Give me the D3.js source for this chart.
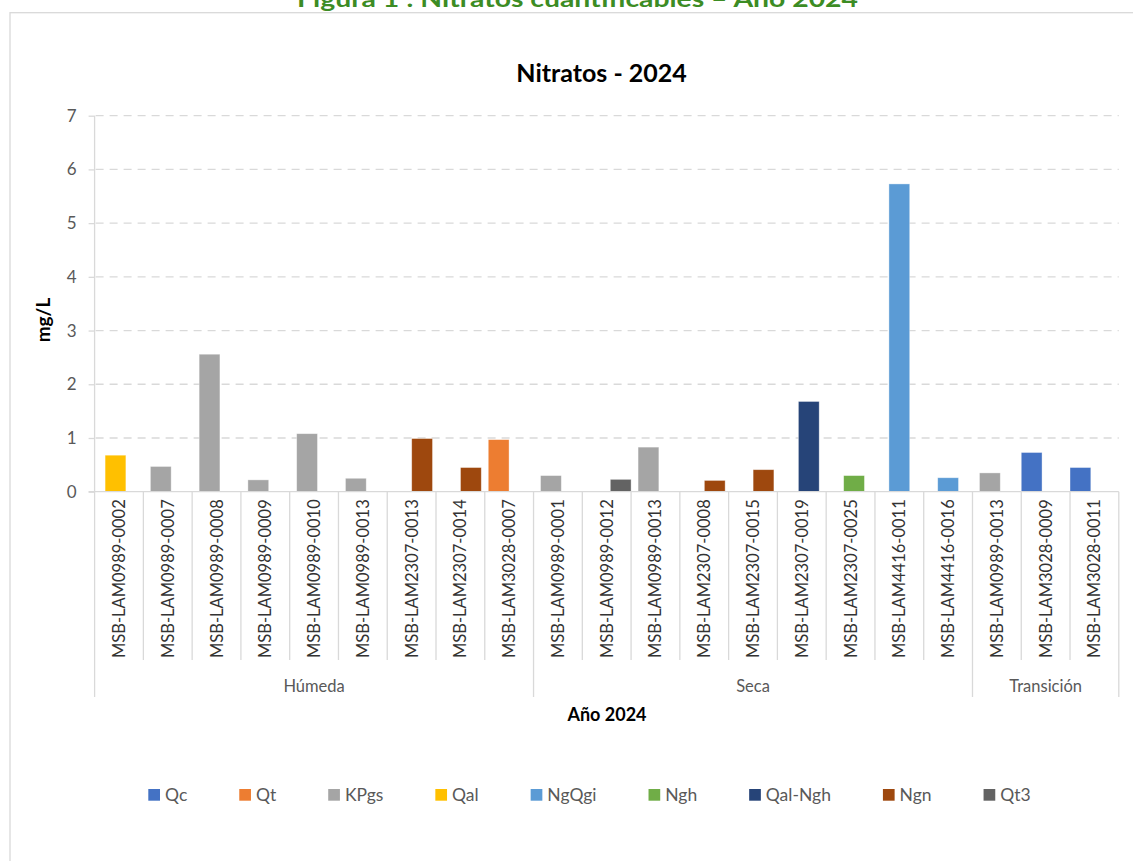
<!DOCTYPE html>
<html><head><meta charset="utf-8">
<script src="https://cdn.jsdelivr.net/npm/d3@7"></script>
<style>body{margin:0;background:#fff}svg{display:block;font-family:Lato,"Open Sans",sans-serif}</style>
</head><body><svg id="c" width="1133" height="861"></svg>
<script>
// ---- data ----
const stations = ["MSB-LAM0989-0002","MSB-LAM0989-0007","MSB-LAM0989-0008","MSB-LAM0989-0009","MSB-LAM0989-0010","MSB-LAM0989-0013","MSB-LAM2307-0013","MSB-LAM2307-0014","MSB-LAM3028-0007",
  "MSB-LAM0989-0001","MSB-LAM0989-0012","MSB-LAM0989-0013","MSB-LAM2307-0008","MSB-LAM2307-0015","MSB-LAM2307-0019","MSB-LAM2307-0025","MSB-LAM4416-0011","MSB-LAM4416-0016",
  "MSB-LAM0989-0013","MSB-LAM3028-0009","MSB-LAM3028-0011"];
const seasonOf = ["Húmeda","Húmeda","Húmeda","Húmeda","Húmeda","Húmeda","Húmeda","Húmeda","Húmeda",
  "Seca","Seca","Seca","Seca","Seca","Seca","Seca","Seca","Seca",
  "Transición","Transición","Transición"];
const unitOf = ["Qal","KPgs","KPgs","KPgs","KPgs","KPgs","Ngn","Ngn","Qt",
  "KPgs","Qt3","KPgs","Ngn","Ngn","Qal-Ngh","Ngh","NgQgi","NgQgi",
  "KPgs","Qc","Qc"];
const nitrate = [0.68,0.47,2.56,0.22,1.08,0.25,0.99,0.45,0.97,
  0.30,0.23,0.83,0.21,0.41,1.68,0.30,5.73,0.26,
  0.35,0.73,0.45];
const units = ["Qc","Qt","KPgs","Qal","NgQgi","Ngh","Qal-Ngh","Ngn","Qt3"];
const unitColors = ["#4472C4","#ED7D31","#A5A5A5","#FFC000","#5B9BD5","#70AD47","#264478","#9E480E","#636363"];
const seasons = ["Húmeda","Seca","Transición"];
const yTicks = [0,1,2,3,4,5,6,7];
const figureCaption = "Figura 1 : Nitratos cuantificables – Año 2024";
const chartTitle = "Nitratos - 2024";
const yTitle = "mg/L";
const xTitle = "Año 2024";

// ---- layout ----
const svg = d3.select("#c");
const L = 94.6, R = 1118.8, T = 115.7, B = 491.7;
const GRID = "#d9d9d9", TXT = "#595959";

svg.append("rect").attr("width",1133).attr("height",861).attr("fill","#fff");
// chart frame
svg.append("rect").attr("x",10).attr("y",12.7).attr("width",1150).attr("height",900)
  .attr("fill","none").attr("stroke","#d9d9d9").attr("stroke-width",1.3);

// figure caption (clipped at top, as in the source page)
svg.append("text").attr("x",577.5).attr("y",7).attr("text-anchor","middle")
  .attr("font-weight","bold").attr("font-size",22).attr("fill","#3c8c24")
  .attr("textLength",561).attr("lengthAdjust","spacingAndGlyphs").text(figureCaption);

const x = d3.scaleBand().domain(d3.range(stations.length)).range([L,R]).padding(0);
const y = d3.scaleLinear().domain([0,7]).range([B,T]);
const color = d3.scaleOrdinal().domain(units).range(unitColors);
const bw = x.bandwidth();
const sub = d3.scalePoint().domain(units).range([-0.287*bw,0.287*bw]);
const barW = 0.4265*bw;

// gridlines
svg.append("g").selectAll("line").data(yTicks.filter(d=>d>0)).join("line")
  .attr("x1",L+1).attr("x2",R).attr("y1",d=>y(d)).attr("y2",d=>y(d))
  .attr("stroke",GRID).attr("stroke-width",1.3).attr("stroke-dasharray","8,6");

// y axis
const yAxis = svg.append("g").attr("transform",`translate(${L},0)`)
  .call(d3.axisLeft(y).tickValues(yTicks).tickSize(6).tickPadding(12).tickFormat(d3.format("d")));
yAxis.select(".domain").attr("stroke",GRID).attr("stroke-width",1.3).attr("d",`M0,${T}V${B}`);
yAxis.selectAll(".tick line").attr("stroke",GRID).attr("stroke-width",1.3);
yAxis.selectAll(".tick text").attr("fill",TXT).attr("font-size",17).attr("font-family","Lato");

// bars
svg.append("g").selectAll("rect").data(nitrate).join("rect")
  .attr("x",(d,i)=>x(i)+bw/2+sub(unitOf[i])-barW/2)
  .attr("width",barW)
  .attr("y",d=>y(d)).attr("height",d=>y(0)-y(d))
  .attr("fill",(d,i)=>color(unitOf[i]))
  .attr("stroke","#ffffff").attr("stroke-opacity",0.5).attr("stroke-width",0.75);

// x axis line
svg.append("line").attr("x1",L-6).attr("x2",R).attr("y1",B).attr("y2",B)
  .attr("stroke",GRID).attr("stroke-width",1.3);

// category dividers
const catBottom = 660, grpBottom = 697;
const groupStart = seasons.map(s=>seasonOf.indexOf(s));
const divs = d3.range(stations.length+1);
svg.append("g").selectAll("line").data(divs).join("line")
  .attr("x1",i=>i<stations.length?x(i):R).attr("x2",i=>i<stations.length?x(i):R)
  .attr("y1",B).attr("y2",i=>(groupStart.includes(i)||i===stations.length)?grpBottom:catBottom)
  .attr("stroke",GRID).attr("stroke-width",1.3);

// category labels
svg.append("g").selectAll("text").data(stations).join("text")
  .attr("transform",(d,i)=>`translate(${x(i)+bw/2+6},${658}) rotate(-90)`)
  .attr("fill","#333333").attr("font-size",16.5).text(d=>d);

// group labels
svg.append("g").selectAll("text").data(seasons).join("text")
  .attr("x",(s,k)=>{const a=groupStart[k];const b=seasonOf.lastIndexOf(s);return (x(a)+x(b)+bw)/2;})
  .attr("y",692).attr("text-anchor","middle").attr("fill",TXT).attr("font-size",16.5).text(d=>d);

// titles
svg.append("text").attr("x",601.6).attr("y",82).attr("text-anchor","middle")
  .attr("font-weight","bold").attr("font-size",25).attr("fill","#000").text(chartTitle);
svg.append("text").attr("transform","translate(50,320) rotate(-90)").attr("text-anchor","middle")
  .attr("font-weight","bold").attr("font-size",19).attr("fill","#000").text(yTitle);
svg.append("text").attr("x",607).attr("y",721).attr("text-anchor","middle")
  .attr("font-weight","bold").attr("font-size",18).attr("fill","#000").text(xTitle);

// legend
const lg = svg.append("g");
let lx = 148.3;
units.forEach((u,k)=>{
  lg.append("rect").attr("x",lx).attr("y",789).attr("width",11.7).attr("height",11.7).attr("fill",color(u));
  const t = lg.append("text").attr("x",lx+16.7).attr("y",801).attr("fill",TXT).attr("font-size",17.5).text(u);
  lx = lx + 16.7 + t.node().getComputedTextLength() + 52;
});
</script></body></html>
